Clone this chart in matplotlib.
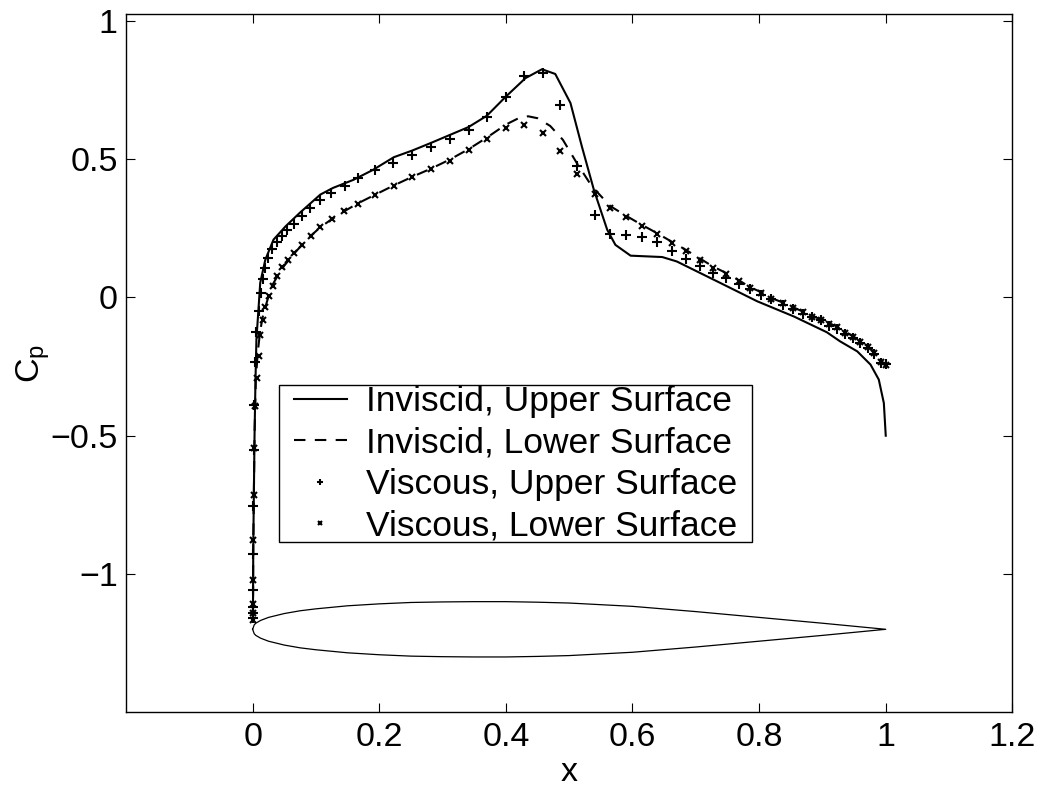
import matplotlib
matplotlib.use("Agg")
import matplotlib.pyplot as plt
import numpy as np

plt.rcParams["font.family"] = ["Liberation Sans", "DejaVu Sans"]
plt.rcParams["font.size"] = 24.5

# inviscid, upper surface (solid line)
x_inv_up = [0.0005, 0.001, 0.002, 0.003, 0.0045, 0.006, 0.007, 0.009, 0.012, 0.02, 0.033, 0.052,
            0.075, 0.107, 0.127, 0.159, 0.19, 0.223, 0.252, 0.281, 0.312, 0.341, 0.37, 0.399,
            0.431, 0.457, 0.478, 0.502, 0.52, 0.539, 0.56, 0.573, 0.597, 0.647, 0.67, 0.739,
            0.797, 0.855, 0.907, 0.928, 0.955, 0.976, 0.989, 0.997, 1.0]
cp_inv_up = [-1.16, -0.9, -0.7, -0.5, -0.3, -0.15, -0.117, -0.05, 0.053, 0.136, 0.209, 0.257,
             0.307, 0.372, 0.396, 0.425, 0.461, 0.507, 0.531, 0.558, 0.588, 0.616, 0.657, 0.724,
             0.793, 0.825, 0.808, 0.703, 0.546, 0.389, 0.245, 0.19, 0.151, 0.146, 0.13, 0.052,
             -0.014, -0.069, -0.126, -0.159, -0.195, -0.243, -0.297, -0.382, -0.5]

# inviscid, lower surface (dashed line)
x_inv_lo = [0.0005, 0.001, 0.002, 0.003, 0.005, 0.008, 0.012, 0.016, 0.022, 0.03, 0.04, 0.05,
            0.066, 0.078, 0.092, 0.107, 0.125, 0.145, 0.167, 0.194, 0.223, 0.252, 0.282, 0.311,
            0.341, 0.37, 0.4, 0.42, 0.435, 0.45, 0.47, 0.49, 0.512, 0.536, 0.565, 0.59, 0.615,
            0.639, 0.663, 0.685, 0.707, 0.727, 0.748, 0.768, 0.785, 0.803, 0.819, 0.837, 0.854,
            0.87, 0.884, 0.898, 0.91, 0.923, 0.936, 0.948, 0.96, 0.972, 0.981, 0.992, 1.0]
cp_inv_lo = [-1.16, -0.9, -0.7, -0.5, -0.3, -0.2, -0.12, -0.07, -0.02, 0.04, 0.08, 0.115,
             0.16, 0.19, 0.223, 0.254, 0.283, 0.312, 0.341, 0.372, 0.405, 0.436, 0.466, 0.498,
             0.536, 0.578, 0.625, 0.648, 0.655, 0.648, 0.62, 0.57, 0.486, 0.401, 0.33, 0.295, 0.262,
             0.232, 0.2, 0.171, 0.14, 0.112, 0.088, 0.062, 0.038, 0.019, -0.002, -0.018, -0.036,
             -0.052, -0.067, -0.08, -0.093, -0.105, -0.124, -0.14, -0.158, -0.177, -0.197, -0.23, -0.245]

# viscous, upper surface (+)
x_vis_up = [0.0, 0.0, 0.0, 0.0, 0.0, 0.0006, 0.0016, 0.0027, 0.0043, 0.006, 0.0095, 0.013,
            0.016, 0.019, 0.024, 0.031, 0.039, 0.046, 0.055, 0.065, 0.078, 0.091, 0.107, 0.124,
            0.146, 0.167, 0.194, 0.222, 0.252, 0.282, 0.312, 0.341, 0.37, 0.4, 0.429, 0.458,
            0.486, 0.513, 0.54, 0.565, 0.59, 0.615, 0.639, 0.663, 0.685, 0.706, 0.727, 0.748,
            0.768, 0.785, 0.803, 0.819, 0.837, 0.854, 0.87, 0.884, 0.898, 0.91, 0.923, 0.936,
            0.948, 0.96, 0.972, 0.981, 0.992, 1.0]
cp_vis_up = [-1.16, -1.14, -1.12, -1.059, -0.926, -0.753, -0.551, -0.388, -0.235, -0.125, -0.05, 0.016,
             0.066, 0.106, 0.142, 0.175, 0.199, 0.223, 0.245, 0.266, 0.293, 0.323, 0.353, 0.379,
             0.404, 0.431, 0.459, 0.486, 0.516, 0.544, 0.572, 0.604, 0.652, 0.724, 0.799, 0.811,
             0.694, 0.476, 0.299, 0.23, 0.224, 0.22, 0.199, 0.169, 0.139, 0.112, 0.09, 0.07,
             0.05, 0.03, 0.01, -0.006, -0.026, -0.042, -0.059, -0.071, -0.083, -0.102, -0.114, -0.131,
             -0.147, -0.165, -0.183, -0.204, -0.237, -0.24]

# viscous, lower surface (x)
x_vis_lo = [0.0, 0.0, 0.0, 0.0, 0.0006, 0.0016, 0.0027, 0.0043, 0.007, 0.0095, 0.012, 0.016,
            0.02, 0.026, 0.032, 0.039, 0.046, 0.056, 0.066, 0.078, 0.092, 0.107, 0.125, 0.145,
            0.167, 0.194, 0.223, 0.252, 0.282, 0.311, 0.341, 0.37, 0.4, 0.429, 0.458, 0.486,
            0.513, 0.54, 0.565, 0.59, 0.615, 0.639, 0.663, 0.685, 0.707, 0.727, 0.748, 0.768,
            0.785, 0.803, 0.819, 0.837, 0.854, 0.87, 0.884, 0.898, 0.91, 0.923, 0.936, 0.948,
            0.96, 0.972, 0.981, 0.992, 1.0]
cp_vis_lo = [-1.165, -1.14, -1.11, -1.02, -0.876, -0.713, -0.544, -0.394, -0.291, -0.213, -0.135, -0.081,
             -0.035, 0.006, 0.042, 0.078, 0.11, 0.136, 0.16, 0.19, 0.223, 0.254, 0.283, 0.312,
             0.339, 0.371, 0.404, 0.435, 0.464, 0.495, 0.534, 0.572, 0.612, 0.624, 0.594, 0.528,
             0.446, 0.375, 0.323, 0.29, 0.259, 0.229, 0.197, 0.169, 0.136, 0.108, 0.086, 0.058,
             0.034, 0.016, -0.005, -0.02, -0.038, -0.054, -0.069, -0.083, -0.095, -0.107, -0.127, -0.143,
             -0.161, -0.18, -0.2, -0.235, -0.245]

# airfoil outline, drawn around Cp = -1.2
x_af = [0.0, 0.0025, 0.005, 0.0125, 0.025, 0.05, 0.075, 0.1, 0.15, 0.2, 0.25, 0.3, 0.35,
        0.4, 0.45, 0.5, 0.55, 0.6, 0.7, 0.8, 0.9, 1.0]
t_af = [0.0, 0.016, 0.022, 0.032, 0.043, 0.057, 0.067, 0.074, 0.085, 0.092, 0.097, 0.099, 0.1,
        0.1, 0.098, 0.095, 0.089, 0.083, 0.064, 0.043, 0.022, 0.0]
af_center = -1.2

labels = ["Inviscid, Upper Surface", "Inviscid, Lower Surface",
          "Viscous, Upper Surface", "Viscous, Lower Surface"]
xticks = [0, 0.2, 0.4, 0.6, 0.8, 1.0, 1.2]
xtick_labels = ["0", "0.2", "0.4", "0.6", "0.8", "1", "1.2"]
yticks = [-1, -0.5, 0, 0.5, 1]
ytick_labels = ["\u22121", "\u22120.5", "0", "0.5", "1"]

fig = plt.figure(figsize=(10.44, 7.88), dpi=100)
ax = fig.add_axes([0.1207, 0.0961, 0.8490, 0.8862])

ax.plot(x_inv_up, cp_inv_up, color="black", lw=1.5, label=labels[0])
ax.plot(x_inv_lo, cp_inv_lo, color="black", lw=1.5, dashes=(5.5, 4.5), label=labels[1])
ax.plot(x_vis_up, cp_vis_up, linestyle="none", marker="+", ms=7, mew=1.5, color="black", label=labels[2])
ax.plot(x_vis_lo, cp_vis_lo, linestyle="none", marker="x", ms=5, mew=1.5, color="black", label=labels[3])

xa = np.array(x_af)
ta = np.array(t_af)
ax.plot(np.concatenate([xa, xa[::-1]]),
        np.concatenate([af_center + ta, (af_center - ta)[::-1]]),
        color="black", lw=0.9)

ax.set_xlim(-0.2, 1.2)
ax.set_ylim(-1.5, 1.025)
ax.set_xticks(xticks)
ax.set_xticklabels(xtick_labels)
ax.set_yticks(yticks)
ax.set_yticklabels(ytick_labels)
ax.tick_params(direction="in", top=True, right=True, length=6.3, width=0.8)
ax.tick_params(axis="x", pad=7)
ax.tick_params(axis="y", pad=6)
for s in ax.spines.values():
    s.set_linewidth(1.0)

ax.set_xlabel("x", labelpad=3)
ax.set_ylabel(r"C$_\mathregular{p}$", labelpad=-1)

leg = ax.legend(loc="upper left", bbox_to_anchor=(0.189, 0.4687), borderaxespad=0,
                fancybox=False, framealpha=1, edgecolor="black", handlelength=1.5,
                handletextpad=0.56, labelspacing=0.24, borderpad=0.0, markerscale=0.6,
                fontsize=25.5)
frame = leg.get_frame()
frame.set_linewidth(1.0)
# horizontal padding only: squash the pad in y
frame.set_boxstyle("square", pad=0.4)
frame.set_mutation_aspect(0.001)

fig.savefig("out.png", dpi=100)
